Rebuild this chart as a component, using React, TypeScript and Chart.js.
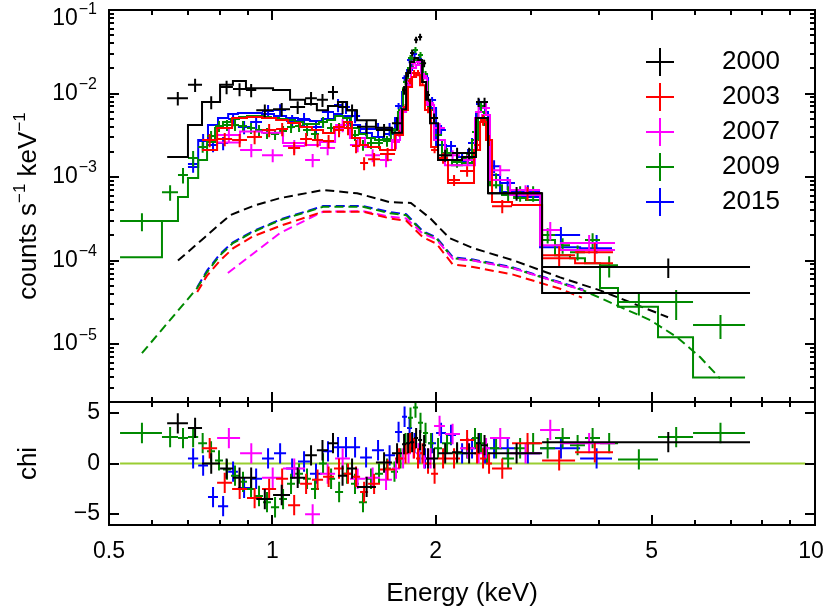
import React, { useEffect, useRef } from 'react';
import { Chart, registerables } from 'chart.js';
Chart.register(...registerables);

// ---------------- data (energies in keV, rates in counts s^-1 keV^-1) ----------------
const years = ['2000', '2003', '2007', '2009', '2015'];
const colors = ['#000000', '#ff0000', '#ff00ff', '#008a00', '#0000ff'];

// 2000
const edges2000 = [0.640, 0.699, 0.742, 0.801, 0.846, 0.894, 0.934, 1.003, 1.078, 1.149, 1.208, 1.266, 1.321, 1.373, 1.432, 1.552, 1.661, 1.734, 1.764, 1.794, 1.825, 1.856, 1.888, 1.920, 1.952, 2.020, 2.144, 2.236, 2.373, 2.424, 2.497, 3.141, 7.59];
const rate2000 = [8.8e-3, 1.27e-2, 7.9e-3, 1.2e-2, 1.13e-2, 1.1e-2, 6.3e-3, 6.5e-3, 6.9e-3, 8.8e-3, 8.4e-3, 1.04e-2, 6.9e-3, 6.3e-3, 4.0e-3, 3.65e-3, 4.4e-3, 1.1e-2, 1.76e-2, 3.06e-2, 4.4e-2, 4.75e-2, 2.3e-2, 9.6e-3, 5.1e-3, 1.83e-3, 1.94e-3, 1.94e-3, 7.9e-3, 7.9e-3, 6.4e-4, 8.4e-5];
const err2000 = [1.6e-3, 2.3e-3, 1.4e-3, 2.2e-3, 2.0e-3, 2.0e-3, 1.1e-3, 1.2e-3, 1.2e-3, 1.6e-3, 1.5e-3, 1.9e-3, 1.2e-3, 1.1e-3, 7.2e-4, 6.6e-4, 7.9e-4, 1.3e-3, 1.9e-3, 3.0e-3, 4.0e-3, 4.3e-3, 2.3e-3, 1.1e-3, 6.6e-4, 3.0e-4, 3.1e-4, 3.1e-4, 1.0e-3, 1.0e-3, 1.2e-4, 2.2e-5];
const model2000 = [1.74e-3, 4.2e-3, 7.9e-3, 1.27e-2, 1.41e-2, 1.16e-2, 1.16e-2, 1.1e-2, 8.4e-3, 7.5e-3, 6.3e-3, 7.1e-3, 7.9e-3, 6.3e-3, 4.8e-3, 3.9e-3, 3.4e-3, 6.5e-3, 1.76e-2, 2.38e-2, 2.66e-2, 2.52e-2, 1.37e-2, 8.4e-3, 4.4e-3, 1.6e-3, 1.6e-3, 1.74e-3, 5.1e-3, 5.1e-3, 6.4e-4, 4.1e-5];
const chi2000 = [3.95, 3.5, 0.0, -0.5, -1.4, -1.4, -3.5, -3.1, -1.4, 0.8, 1.3, 2.0, -1.2, -0.5, -2.3, 0.1, 1.0, 1.9, 2.0, 2.1, 2.5, 2.3, 1.8, 0.5, 0.5, 1.0, 1.1, 1.0, 2.0, 1.8, 1.0, 2.1];
const contE2000 = [0.670, 0.751, 0.836, 0.929, 1.033, 1.240, 1.433, 1.648, 1.80, 1.952, 2.12, 2.344, 2.777, 3.39, 4.017, 5.36];
const cont2000 = [1.0e-4, 1.91e-4, 3.5e-4, 4.6e-4, 5.6e-4, 7.0e-4, 6.4e-4, 5.0e-4, 4.9e-4, 3.23e-4, 1.86e-4, 1.41e-4, 1.01e-4, 6.3e-5, 4.4e-5, 2.1e-5];

// 2003
const edges2003 = [0.742, 0.791, 0.843, 0.898, 0.957, 1.016, 1.069, 1.125, 1.183, 1.240, 1.299, 1.355, 1.402, 1.451, 1.501, 1.579, 1.683, 1.741, 1.778, 1.809, 1.840, 1.871, 1.911, 1.961, 2.020, 2.107, 2.217, 2.353, 2.414, 2.476, 2.540, 2.765, 3.141, 3.613, 4.244];
const rate2003 = [2.77e-3, 2.85e-3, 2.77e-3, 3.01e-3, 3.66e-3, 3.76e-3, 2.23e-3, 2.85e-3, 2.77e-3, 2.70e-3, 3.66e-3, 3.86e-3, 2.35e-3, 1.47e-3, 1.64e-3, 1.89e-3, 3.36e-3, 6.89e-3, 1.41e-2, 1.76e-2, 1.76e-2, 1.37e-2, 6.35e-3, 2.11e-3, 1.69e-3, 9.2e-4, 1.18e-3, 2.42e-3, 4.82e-3, 2.77e-3, 4.49e-4, 6.43e-4, 1.16e-4, 1.26e-4];
const err2003 = [5.0e-4, 5.1e-4, 5.0e-4, 5.4e-4, 6.6e-4, 6.8e-4, 4.0e-4, 5.1e-4, 5.0e-4, 4.9e-4, 6.6e-4, 6.9e-4, 4.2e-4, 2.6e-4, 3.0e-4, 3.4e-4, 2.9e-4, 5.9e-4, 1.2e-3, 1.5e-3, 1.5e-3, 1.2e-3, 5.5e-4, 1.8e-4, 2.5e-4, 1.4e-4, 1.7e-4, 3.6e-4, 7.1e-4, 4.1e-4, 8.1e-5, 1.2e-4, 3.3e-5, 3.5e-5];
const model2003 = [2.11e-3, 3.86e-3, 5.09e-3, 5.23e-3, 5.09e-3, 4.82e-3, 4.43e-3, 3.97e-3, 3.66e-3, 3.36e-3, 3.97e-3, 4.56e-3, 2.93e-3, 2.42e-3, 2.29e-3, 2.11e-3, 3.18e-3, 6.35e-3, 1.20e-2, 1.58e-2, 1.67e-2, 1.26e-2, 6.35e-3, 2.29e-3, 1.60e-3, 8.47e-4, 8.47e-4, 2.11e-3, 4.56e-3, 2.77e-3, 5.02e-4, 4.62e-4, 1.07e-4, 9.3e-5];
const chi2003 = [1.5, -1.9, -2.5, -3.4, -2.5, -1.5, -4.1, -2.0, -1.6, -1.3, -0.5, -1.0, -1.3, -2.8, -2.0, -0.6, 0.5, 1.0, 2.0, 1.5, 0.5, 1.0, 0.0, -1.0, 0.5, 0.5, 2.3, 1.0, 0.5, 0.0, -0.5, 2.0, 0.3, 1.1];
const contE2003 = [0.727, 0.758, 0.801, 0.846, 0.921, 1.033, 1.240, 1.47, 1.648, 1.765, 1.894, 2.005, 2.15, 2.344, 2.777, 3.39, 3.72];
const cont2003 = [4.2e-5, 6.6e-5, 1.0e-4, 1.4e-4, 1.95e-4, 2.6e-4, 3.85e-4, 3.85e-4, 3.2e-4, 3.0e-4, 1.9e-4, 1.6e-4, 9.0e-5, 8.4e-5, 6.8e-5, 4.6e-5, 3.6e-5];

// 2007
const edges2007 = [0.791, 0.872, 0.957, 1.046, 1.149, 1.224, 1.305, 1.390, 1.482, 1.579, 1.661, 1.719, 1.764, 1.801, 1.840, 1.879, 1.928, 1.986, 2.080, 2.217, 2.363, 2.435, 2.518, 2.742, 3.114, 3.390, 4.280];
const rate2007 = [3.18e-3, 2.11e-3, 1.83e-3, 2.35e-3, 1.60e-3, 2.23e-3, 4.20e-3, 2.42e-3, 1.83e-3, 1.60e-3, 2.63e-3, 6.35e-3, 1.37e-2, 2.32e-2, 2.38e-2, 1.62e-2, 7.69e-3, 3.86e-3, 1.83e-3, 1.60e-3, 6.01e-3, 6.70e-3, 1.21e-3, 6.99e-4, 2.32e-4, 1.62e-4];
const err2007 = [5.7e-4, 3.8e-4, 3.3e-4, 4.2e-4, 2.9e-4, 4.0e-4, 7.6e-4, 4.4e-4, 3.3e-4, 2.9e-4, 4.7e-4, 5.5e-4, 1.2e-3, 2.0e-3, 2.0e-3, 1.4e-3, 6.6e-4, 5.7e-4, 2.7e-4, 2.4e-4, 8.9e-4, 9.9e-4, 1.8e-4, 1.0e-4, 5.8e-5, 4.0e-5];
const model2007 = [2.6e-3, 3.5e-3, 3.4e-3, 2.55e-3, 2.42e-3, 2.63e-3, 3.86e-3, 2.93e-3, 2.29e-3, 2.11e-3, 2.77e-3, 6.01e-3, 1.26e-2, 2.02e-2, 2.19e-2, 1.53e-2, 7.29e-3, 2.77e-3, 1.39e-3, 1.39e-3, 5.09e-3, 5.53e-3, 9.21e-4, 6.09e-4, 1.53e-4, 1.34e-4];
const chi2007 = [2.5, 1.0, -1.4, -0.5, -5.0, -1.0, 0.5, -1.5, -1.4, -1.6, -0.5, 0.5, 1.0, 1.5, 1.0, 0.5, 0.5, 3.7, 2.9, 1.5, 1.0, 1.5, 2.5, 1.0, 3.3, 2.0];
const contE2007 = [0.828, 0.929, 1.033, 1.24, 1.47, 1.648, 1.765, 1.894, 2.005, 2.15, 2.344, 2.777, 3.39, 3.74];
const cont2007 = [7.1e-5, 1.26e-4, 2.14e-4, 3.85e-4, 3.9e-4, 3.35e-4, 3.2e-4, 2.1e-4, 1.8e-4, 1.05e-4, 1.0e-4, 8.1e-5, 5.4e-5, 4.4e-5];

// 2009
const edges2009 = [0.524, 0.626, 0.670, 0.699, 0.730, 0.758, 0.784, 0.811, 0.839, 0.868, 0.898, 0.929, 0.961, 0.994, 1.029, 1.064, 1.101, 1.139, 1.178, 1.219, 1.261, 1.305, 1.350, 1.396, 1.444, 1.494, 1.546, 1.599, 1.654, 1.704, 1.741, 1.778, 1.816, 1.855, 1.895, 1.936, 1.986, 2.054, 2.143, 2.236, 2.333, 2.393, 2.455, 2.518, 2.650, 2.789, 2.934, 3.114, 3.318, 3.536, 3.768, 4.016, 4.335, 5.137, 5.960, 7.432];
const rate2009 = [2.97e-4, 6.6e-4, 1.06e-3, 1.69e-3, 2.29e-3, 3.10e-3, 4.08e-3, 4.20e-3, 4.20e-3, 4.08e-3,
  3.86e-3, 3.66e-3, 3.36e-3, 3.27e-3, 3.56e-3, 3.97e-3, 4.08e-3, 3.66e-3, 3.27e-3, 4.56e-3,
  3.86e-3, 3.86e-3, 4.56e-3, 3.18e-3, 2.42e-3, 2.55e-3, 2.55e-3, 2.70e-3, 3.36e-3, 6.35e-3,
  1.37e-2, 2.66e-2, 3.32e-2, 2.89e-2, 1.71e-2, 7.49e-3, 3.18e-3, 1.94e-3, 1.51e-3, 1.69e-3,
  3.46e-3, 7.09e-3, 4.56e-3, 9.2e-4, 6.43e-4, 6.43e-4, 6.43e-4, 2.02e-4, 1.53e-4, 1.26e-4,
  1.76e-4, 8.8e-5, 3.2e-5, 3.2e-5, 1.69e-5];
const err2009 = [7.3e-5, 1.4e-4, 2.2e-4, 3.6e-4, 3.4e-4, 4.6e-4, 6.1e-4, 6.3e-4, 6.3e-4, 6.1e-4,
  5.8e-4, 5.5e-4, 5.0e-4, 4.9e-4, 5.3e-4, 6.0e-4, 6.1e-4, 5.5e-4, 4.9e-4, 6.8e-4,
  5.8e-4, 5.8e-4, 6.8e-4, 4.8e-4, 3.6e-4, 3.8e-4, 3.8e-4, 4.0e-4, 5.0e-4, 5.5e-4,
  1.2e-3, 2.3e-3, 2.9e-3, 2.5e-3, 1.5e-3, 6.4e-4, 4.7e-4, 2.9e-4, 2.2e-4, 2.5e-4,
  5.1e-4, 1.0e-3, 6.7e-4, 1.9e-4, 1.35e-4, 1.35e-4, 1.35e-4, 4.2e-5, 3.2e-5, 2.6e-5,
  3.7e-5, 2.5e-5, 1.0e-5, 1.25e-5, 5.4e-6];
const model2009 = [1.10e-4, 2.97e-4, 5.76e-4, 9.73e-4, 1.60e-3, 2.63e-3, 3.86e-3, 4.56e-3, 4.95e-3, 5.23e-3,
  5.38e-3, 5.38e-3, 5.23e-3, 5.09e-3, 4.95e-3, 4.82e-3, 4.56e-3, 4.31e-3, 4.31e-3, 4.56e-3,
  4.82e-3, 5.38e-3, 5.09e-3, 3.86e-3, 3.27e-3, 2.93e-3, 2.77e-3, 2.85e-3, 3.66e-3, 6.01e-3,
  1.16e-2, 2.02e-2, 2.52e-2, 2.26e-2, 1.37e-2, 6.35e-3, 2.77e-3, 1.60e-3, 1.39e-3, 1.47e-3,
  2.77e-3, 6.01e-3, 4.20e-3, 8.0e-4, 6.09e-4, 5.60e-4, 5.30e-4, 1.76e-4, 1.16e-4, 1.07e-4,
  9.3e-5, 4.7e-5, 2.8e-5, 1.21e-5, 4.0e-6];
const chi2009 = [3.0, 2.6, 2.5, 2.6, 2.0, 1.2, 0.3, -0.6, -1.2, -1.8,
  -2.5, -3.2, -3.8, -4.3, -3.5, -2.0, -1.0, -1.5, -2.5, 0.0,
  -1.5, -2.8, -1.0, -2.0, -3.8, -1.5, -1.0, -0.5, -0.8, 0.5,
  2.0, 4.5, 5.5, 4.0, 3.0, 2.0, 1.5, 2.0, 1.0, 1.5,
  2.5, 2.0, 1.0, 1.5, 0.5, 1.5, 2.0, 1.5, 2.5, 1.8,
  2.5, 2.0, 0.4, 2.6, 3.0];
const contE2009 = [0.575, 0.727, 0.758, 0.801, 0.846, 0.921, 1.033, 1.240, 1.47, 1.648, 1.765, 1.894, 2.005, 2.15, 2.344, 2.777, 3.39, 3.74, 4.37, 4.97, 5.57, 6.14, 6.68];
const cont2009 = [7.8e-6, 4.7e-5, 7.3e-5, 1.16e-4, 1.62e-4, 2.2e-4, 3.05e-4, 4.4e-4, 4.4e-4, 3.7e-4, 3.5e-4, 2.2e-4, 1.86e-4, 1.07e-4, 1.01e-4, 8.1e-5, 5.4e-5, 4.4e-5, 2.8e-5, 1.94e-5, 1.21e-5, 7.0e-6, 3.9e-6];

// 2015
const edges2015 = [0.699, 0.730, 0.761, 0.794, 0.829, 0.864, 0.910, 0.957, 1.007, 1.060, 1.115, 1.173, 1.234, 1.299, 1.344, 1.390, 1.451, 1.526, 1.606, 1.683, 1.734, 1.771, 1.809, 1.848, 1.887, 1.936, 2.003, 2.089, 2.180, 2.294, 2.373, 2.435, 2.497, 2.628, 2.800, 3.114, 3.691, 4.226];
const rate2015 = [1.43e-3, 2.70e-3, 2.42e-3, 2.55e-3, 4.95e-3, 3.97e-3, 4.56e-3, 6.17e-3, 6.35e-3, 4.69e-3, 4.95e-3, 3.97e-3, 6.01e-3, 7.29e-3, 6.89e-3, 5.38e-3, 3.76e-3, 3.76e-3, 3.76e-3, 7.09e-3, 1.53e-2, 2.52e-2, 2.97e-2, 2.59e-2, 1.62e-2, 8.36e-3, 3.66e-3, 2.35e-3, 1.74e-3, 2.55e-3, 7.49e-3, 6.70e-3, 1.35e-3, 8.5e-4, 6.80e-4, 2.02e-4, 1.62e-4];
const err2015 = [3.0e-4, 5.7e-4, 4.4e-4, 4.6e-4, 8.9e-4, 7.1e-4, 8.2e-4, 1.1e-3, 1.1e-3, 8.4e-4, 8.9e-4, 7.1e-4, 1.1e-3, 1.3e-3, 1.2e-3, 9.7e-4, 6.8e-4, 6.8e-4, 6.8e-4, 6.1e-4, 1.3e-3, 2.2e-3, 2.6e-3, 2.2e-3, 1.4e-3, 7.2e-4, 5.4e-4, 3.5e-4, 2.6e-4, 3.8e-4, 1.1e-3, 1.0e-3, 2.4e-4, 1.5e-4, 1.2e-4, 5.0e-5, 4.0e-5];
const model2015 = [1.32e-3, 2.77e-3, 4.20e-3, 5.09e-3, 5.68e-3, 5.84e-3, 5.84e-3, 5.68e-3, 5.38e-3, 5.09e-3, 4.82e-3, 4.69e-3, 4.95e-3, 5.68e-3, 5.38e-3, 4.20e-3, 3.36e-3, 3.01e-3, 3.27e-3, 5.09e-3, 1.04e-2, 1.91e-2, 2.52e-2, 2.38e-2, 1.53e-2, 6.70e-3, 2.42e-3, 1.60e-3, 1.51e-3, 2.11e-3, 6.01e-3, 6.01e-3, 1.06e-3, 6.61e-4, 5.76e-4, 1.45e-4, 1.41e-4];
const chi2015 = [0.5, -0.2, -3.3, -4.2, -0.8, -2.4, -1.5, 0.5, 1.0, -0.5, 0.2, -1.0, 1.2, 1.6, 1.6, 1.6, 0.6, 1.3, 0.8, 3.1, 4.6, 3.5, 2.0, 1.0, 0.5, 2.0, 3.0, 2.8, 1.0, 1.5, 2.0, 1.0, 1.5, 1.5, 1.0, 1.5, 0.5];
const contE2015 = [0.727, 0.758, 0.801, 0.846, 0.921, 1.033, 1.240, 1.47, 1.648, 1.765, 1.894, 2.005, 2.15, 2.344, 2.777, 3.39, 3.74];
const cont2015 = [4.8e-5, 7.6e-5, 1.2e-4, 1.66e-4, 2.25e-4, 3.1e-4, 4.5e-4, 4.5e-4, 3.8e-4, 3.6e-4, 2.25e-4, 1.9e-4, 1.1e-4, 1.03e-4, 8.3e-5, 5.5e-5, 4.5e-5];

// chi = 0 reference line
const zeroLineE = [0.524, 9.6];
const zeroLineChi = [0, 0];

// axes
const xMin = 0.5, xMax = 10;
const yMin = 2.03e-6, yMax = 0.1;
const chiMin = -6.05, chiMax = 6.05;
const xLabelValues = [0.5, 1, 2, 5, 10];
const xLabelTexts = ['0.5', '1', '2', '5', '10'];
const xMajorTicks = [1, 2, 5];
const xMinorTicks = [0.6, 0.7, 0.8, 0.9, 3, 4, 6, 7, 8, 9];
const yExponents = [-1, -2, -3, -4, -5];
const chiTicks = [5, 0, -5];
const chiTickTexts = ['5', '0', '\u22125'];

// ---------------- helpers ----------------
type P = { x: number; y: number | null };
function crossPts(edges: number[], vals: number[], errs: number[] | null): P[] {
  const out: P[] = [];
  for (let i = 0; i < vals.length; i++) {
    const lo = edges[i], hi = edges[i + 1], c = (lo + hi) / 2;
    const v = vals[i], e = errs ? errs[i] : 1;
    out.push({ x: lo, y: v }, { x: hi, y: v }, { x: hi, y: null },
      { x: c, y: v - e }, { x: c, y: v + e }, { x: c, y: null });
  }
  return out;
}
function stepPts(edges: number[], vals: number[]): P[] {
  const out: P[] = [];
  for (let i = 0; i < vals.length; i++) out.push({ x: edges[i], y: vals[i] }, { x: edges[i + 1], y: vals[i] });
  return out;
}
function linePts(xs: number[], ys: number[]): P[] {
  return xs.map((x, i) => ({ x, y: ys[i] }));
}

const FONT = '"Liberation Sans", Arial, sans-serif';
const f = (s: number) => `${s}px ${FONT}`;

function seg(ctx: CanvasRenderingContext2D, x1: number, y1: number, x2: number, y2: number) {
  ctx.beginPath(); ctx.moveTo(x1, y1); ctx.lineTo(x2, y2); ctx.stroke();
}

function drawXTicks(chart: any) {
  const { ctx, chartArea: a, scales } = chart;
  const xs = scales.x;
  const all = [...xMajorTicks.map(v => [v, 10]), ...xMinorTicks.map(v => [v, 5])];
  for (const [v, len] of all) {
    const px = Math.round(xs.getPixelForValue(v));
    seg(ctx, px, a.top, px, a.top + len);
    seg(ctx, px, a.bottom, px, a.bottom - len);
  }
}

const topDecor = {
  id: 'topDecor',
  afterDatasetsDraw(chart: any) {
    const { ctx, chartArea: a, scales } = chart;
    const ys = scales.y;
    ctx.save();
    ctx.strokeStyle = '#000'; ctx.lineWidth = 2; ctx.lineCap = 'butt';
    ctx.strokeRect(a.left, a.top, a.right - a.left, a.bottom - a.top);
    for (let p = -6; p <= -1; p++) {
      for (let k = 1; k < 10; k++) {
        const v = k * Math.pow(10, p);
        if (v < ys.min * 0.999 || v > ys.max * 1.001) continue;
        const py = Math.round(ys.getPixelForValue(v));
        const len = k === 1 ? 10 : 5;
        seg(ctx, a.left, py, a.left + len, py);
        seg(ctx, a.right, py, a.right - len, py);
      }
    }
    drawXTicks(chart);
    // y tick labels 10^n
    ctx.fillStyle = '#000';
    ctx.textBaseline = 'middle';
    for (const e of yExponents) {
      const py = Math.max(ys.getPixelForValue(Math.pow(10, e)), a.top + 9);
      const sup = '\u2212' + String(-e);
      ctx.font = f(16);
      const sw = ctx.measureText(sup).width;
      ctx.textAlign = 'left';
      ctx.fillText(sup, 97 - sw, py - 9);
      ctx.font = f(23);
      ctx.textAlign = 'right';
      ctx.fillText('10', 97 - sw - 1, py);
    }
    // y title
    ctx.save();
    ctx.translate(36, (a.top + a.bottom) / 2);
    ctx.rotate(-Math.PI / 2);
    const parts: [string, boolean][] = [['counts s', false], ['\u22121', true], [' keV', false], ['\u22121', true]];
    let total = 0;
    for (const [t, s] of parts) { ctx.font = f(s ? 17 : 26); total += ctx.measureText(t).width; }
    let x = -total / 2;
    ctx.textAlign = 'left'; ctx.textBaseline = 'alphabetic';
    for (const [t, s] of parts) {
      ctx.font = f(s ? 17 : 26);
      ctx.fillText(t, x, s ? -11 : 0);
      x += ctx.measureText(t).width;
    }
    ctx.restore();
    // legend
    years.forEach((yr, i) => {
      const cy = 62 + 35 * i;
      ctx.strokeStyle = colors[i]; ctx.lineWidth = 2;
      seg(ctx, 646, cy, 674, cy);
      seg(ctx, 660, cy - 14, 660, cy + 14);
      ctx.fillStyle = '#000'; ctx.font = f(26); ctx.textAlign = 'left'; ctx.textBaseline = 'middle';
      ctx.fillText(yr, 722, cy);
    });
    ctx.restore();
  },
};

const botDecor = {
  id: 'botDecor',
  afterDatasetsDraw(chart: any) {
    const { ctx, chartArea: a, scales } = chart;
    const xs = scales.x, ys = scales.y;
    ctx.save();
    ctx.strokeStyle = '#000'; ctx.lineWidth = 2;
    ctx.strokeRect(a.left, a.top, a.right - a.left, a.bottom - a.top);
    drawXTicks(chart);
    ctx.fillStyle = '#000';
    chiTicks.forEach((v, i) => {
      const py = Math.round(ys.getPixelForValue(v));
      seg(ctx, a.left, py, a.left + 10, py);
      seg(ctx, a.right, py, a.right - 10, py);
      ctx.font = f(23); ctx.textAlign = 'right'; ctx.textBaseline = 'middle';
      ctx.fillText(chiTickTexts[i], 100, py);
    });
    xLabelValues.forEach((v, i) => {
      const px = Math.min(xs.getPixelForValue(v), 830 - 19);
      ctx.font = f(23); ctx.textAlign = 'center'; ctx.textBaseline = 'middle';
      ctx.fillText(xLabelTexts[i], px, 552);
    });
    ctx.font = f(26); ctx.textAlign = 'center'; ctx.textBaseline = 'middle';
    ctx.fillText('Energy (keV)', (a.left + a.right) / 2, 594);
    ctx.save();
    ctx.translate(36, (a.top + a.bottom) / 2);
    ctx.rotate(-Math.PI / 2);
    ctx.font = f(26); ctx.textAlign = 'center'; ctx.textBaseline = 'alphabetic';
    ctx.fillText('chi', 0, 0);
    ctx.restore();
    ctx.restore();
  },
};

const sets = [
  { c: 0, edges: edges2000, rate: rate2000, err: err2000, model: model2000, chi: chi2000, cE: contE2000, cV: cont2000 },
  { c: 1, edges: edges2003, rate: rate2003, err: err2003, model: model2003, chi: chi2003, cE: contE2003, cV: cont2003 },
  { c: 2, edges: edges2007, rate: rate2007, err: err2007, model: model2007, chi: chi2007, cE: contE2007, cV: cont2007 },
  { c: 3, edges: edges2009, rate: rate2009, err: err2009, model: model2009, chi: chi2009, cE: contE2009, cV: cont2009 },
  { c: 4, edges: edges2015, rate: rate2015, err: err2015, model: model2015, chi: chi2015, cE: contE2015, cV: cont2015 },
];

function baseOpts(padding: any, yScale: any): any {
  return {
    responsive: false, maintainAspectRatio: false, animation: false, devicePixelRatio: 1,
    events: [],
    layout: { padding },
    plugins: { legend: { display: false }, tooltip: { enabled: false }, title: { display: false } },
    elements: { point: { radius: 0 }, line: { tension: 0 } },
    scales: {
      x: { type: 'logarithmic', min: xMin, max: xMax, display: false },
      y: yScale,
    },
  };
}

const lineDs = (data: P[], color: string, dash: number[] = [], width = 2) => ({
  type: 'line', data, borderColor: color, backgroundColor: color, borderWidth: width,
  borderDash: dash, pointRadius: 0, fill: false, spanGaps: false, tension: 0,
});

export default function App() {
  const topRef = useRef<HTMLCanvasElement>(null);
  const botRef = useRef<HTMLCanvasElement>(null);
  useEffect(() => {
    const topDatasets: any[] = [];
    for (const s of sets) {
      topDatasets.push(lineDs(crossPts(s.edges, s.rate, s.err), colors[s.c]));
      topDatasets.push(lineDs(stepPts(s.edges, s.model), colors[s.c]));
    }
    for (const s of sets) topDatasets.push(lineDs(linePts(s.cE, s.cV), colors[s.c], [9, 5]));
    const top = new Chart(topRef.current as HTMLCanvasElement, {
      type: 'line',
      data: { datasets: topDatasets },
      options: baseOpts({ left: 109, right: 15, top: 10, bottom: 211 },
        { type: 'logarithmic', min: yMin, max: yMax, display: false }),
      plugins: [topDecor],
    } as any);
    const botDatasets: any[] = sets.map(s => lineDs(crossPts(s.edges, s.chi, null), colors[s.c]));
    botDatasets.push(lineDs(linePts(zeroLineE, zeroLineChi), '#9acd32'));
    const bot = new Chart(botRef.current as HTMLCanvasElement, {
      type: 'line',
      data: { datasets: botDatasets },
      options: baseOpts({ left: 109, right: 15, top: 402, bottom: 88 },
        { type: 'linear', min: chiMin, max: chiMax, display: false }),
      plugins: [botDecor],
    } as any);
    return () => { top.destroy(); bot.destroy(); };
  }, []);
  const cs: React.CSSProperties = { position: 'absolute', left: 0, top: 0, width: 830, height: 613 };
  return (
    <div style={{ position: 'fixed', left: 0, top: 0, width: 830, height: 613, background: '#fff' }}>
      <canvas ref={topRef} width={830} height={613} style={cs} />
      <canvas ref={botRef} width={830} height={613} style={cs} />
    </div>
  );
}
